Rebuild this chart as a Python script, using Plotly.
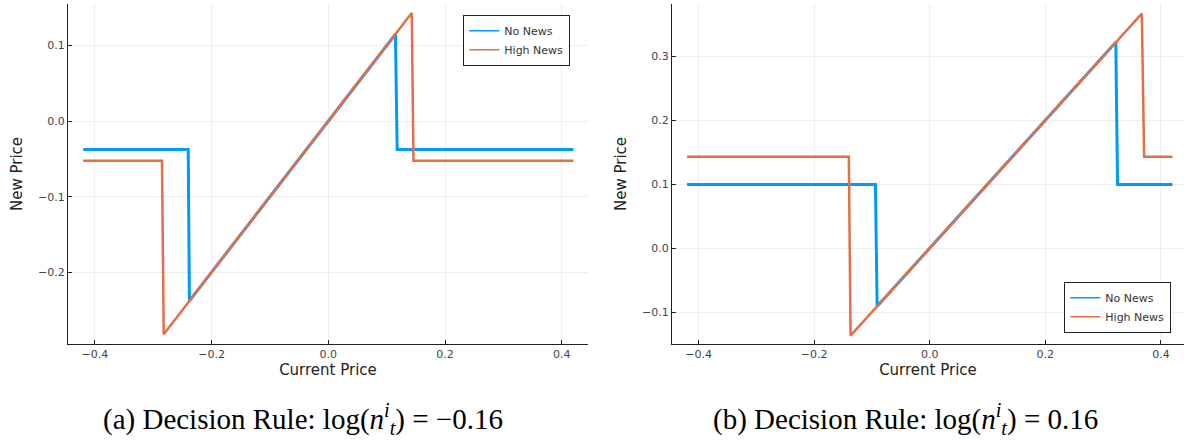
import plotly.graph_objects as go

# ---------------- data ----------------
# Panel (a): log(n) = -0.16
a_no_x = [-0.42, -0.240, -0.238, 0.115, 0.118, 0.42]
a_no_y = [-0.0375, -0.0375, -0.238, 0.115, -0.0375, -0.0375]
a_hi_x = [-0.42, -0.285, -0.282, 0.143, 0.146, 0.42]
a_hi_y = [-0.0525, -0.0525, -0.282, 0.143, -0.0525, -0.0525]

# Panel (b): log(n) = 0.16
b_no_x = [-0.42, -0.094, -0.091, 0.322, 0.325, 0.42]
b_no_y = [0.0995, 0.0995, -0.091, 0.322, 0.0995, 0.0995]
b_hi_x = [-0.42, -0.140, -0.137, 0.367, 0.371, 0.42]
b_hi_y = [0.143, 0.143, -0.137, 0.367, 0.143, 0.143]

series_names = ["No News", "High News"]
x_ticks = [-0.4, -0.2, 0.0, 0.2, 0.4]
a_y_ticks = [-0.2, -0.1, 0.0, 0.1]
b_y_ticks = [-0.1, 0.0, 0.1, 0.2, 0.3]
captions = ["(a) Decision Rule: log(<i>n</i><sup><i>i</i></sup><sub><i>t</i></sub>) = −0.16",
            "(b) Decision Rule: log(<i>n</i><sup><i>i</i></sup><sub><i>t</i></sub>) = 0.16"]

BLUE = "#009AFA"
ORANGE = "#E36F47"
colors = [BLUE, ORANGE]
widths = [3, 2.5]

fig = go.Figure()
panels = [
    ("x", "y", "legend", [(a_no_x, a_no_y), (a_hi_x, a_hi_y)]),
    ("x2", "y2", "legend2", [(b_no_x, b_no_y), (b_hi_x, b_hi_y)]),
]
for xa, ya, lg, series in panels:
    for i, (xs, ys) in enumerate(series):
        fig.add_trace(go.Scatter(x=xs, y=ys, mode="lines", name=series_names[i],
                                 line=dict(color=colors[i], width=widths[i]),
                                 xaxis=xa, yaxis=ya, showlegend=False))
    # thin legend samples (as in the reference legend)
    for i in range(2):
        fig.add_trace(go.Scatter(x=[None], y=[None], mode="lines", name=series_names[i],
                                 line=dict(color=colors[i], width=1.5),
                                 xaxis=xa, yaxis=ya, legend=lg, showlegend=True))

tickfont = dict(family="DejaVu Sans", size=11, color="#444")
titlefont = dict(family="DejaVu Sans", size=15, color="#222")
common_ax = dict(showline=True, linecolor="#222", linewidth=1.2, mirror=False,
                 showgrid=True, gridcolor="#EEEEEE", gridwidth=1, zeroline=False,
                 ticks="inside", ticklen=4, tickcolor="#222", tickfont=tickfont,
                 title_font=titlefont)

W, H = 1184, 441
ydom = [1 - 344 / H, 1 - 4 / H]
legend_common = dict(bgcolor="white", bordercolor="#222", borderwidth=1.3,
                     font=dict(family="DejaVu Sans", size=11, color="#333"),
                     tracegroupgap=0, itemwidth=30)
fig.update_layout(
    width=W, height=H,
    margin=dict(l=0, r=0, t=0, b=0),
    paper_bgcolor="white", plot_bgcolor="white",
    xaxis=dict(domain=[68 / W, 588 / W], range=[-0.446, 0.445], tickvals=x_ticks,
               tickformat=".1f", title=dict(text="Current Price", standoff=3), anchor="y", **common_ax),
    yaxis=dict(domain=ydom, range=[-0.295, 0.155], tickvals=a_y_ticks, tickformat=".1f",
               title=dict(text="New Price", standoff=11), anchor="x", **common_ax),
    xaxis2=dict(domain=[672 / W, 1.0], range=[-0.446, 0.440], tickvals=x_ticks,
                tickformat=".1f", title=dict(text="Current Price", standoff=3), anchor="y2", **common_ax),
    yaxis2=dict(domain=ydom, range=[-0.150, 0.382], tickvals=b_y_ticks, tickformat=".1f",
                title=dict(text="New Price", standoff=11), anchor="x2", **common_ax),
    legend=dict(x=570 / W, y=1 - 15 / H, xanchor="right", yanchor="top", **legend_common),
    legend2=dict(x=1171 / W, y=1 - 333 / H, xanchor="right", yanchor="bottom", **legend_common),
    showlegend=True,
)

cap_x = [303 / W, 905 / W]
for cx, txt in zip(cap_x, captions):
    fig.add_annotation(x=cx, y=1 - 419 / H, xref="paper", yref="paper", text=txt,
                       showarrow=False, xanchor="center", yanchor="middle",
                       font=dict(family="Liberation Serif", size=29, color="black"))

fig.write_html("out.html", config={"displayModeBar": False},
               post_script="document.body.style.margin='0';document.body.style.overflow='hidden';")
